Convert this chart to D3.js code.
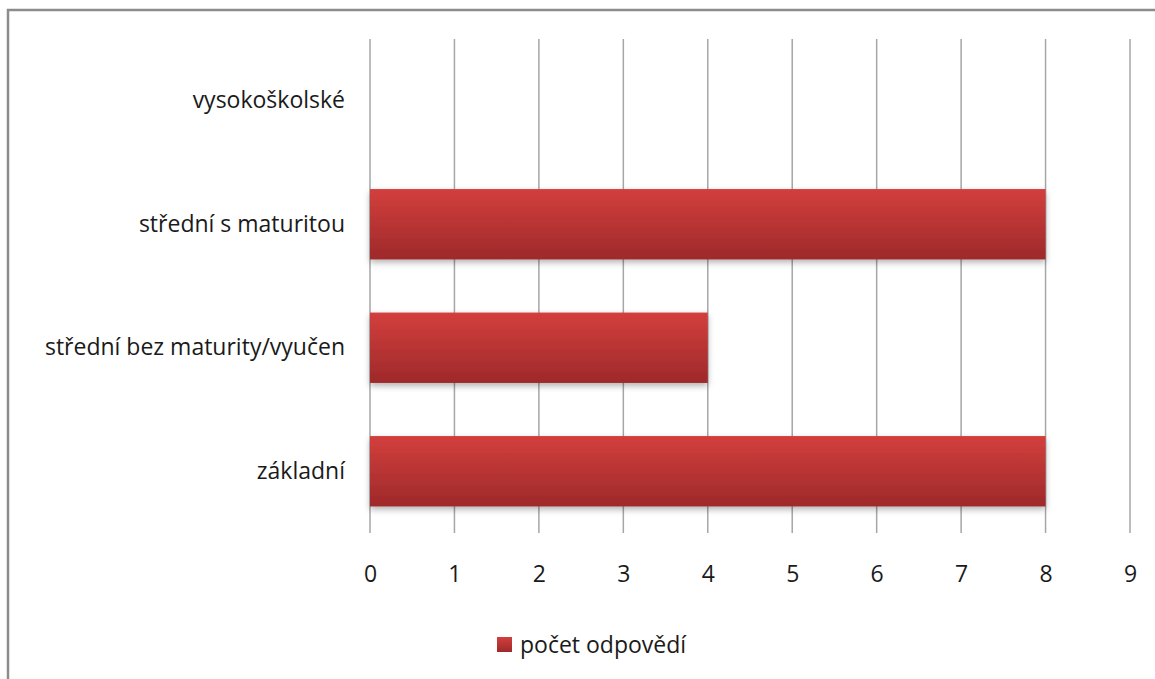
<!DOCTYPE html>
<html><head><meta charset="utf-8">
<script src="https://cdn.jsdelivr.net/npm/d3@7"></script>
<style>body{margin:0;background:#fff}svg{display:block}text{font-family:"Open Sans",sans-serif;fill:#1a1a1a}</style>
</head><body><svg id="c" width="1155" height="679"></svg>
<script>
const categories = ["vysokoškolské", "střední s maturitou", "střední bez maturity/vyučen", "základní"];
const values = [0, 8, 4, 8];
const ticks = [0,1,2,3,4,5,6,7,8,9];
const seriesName = "počet odpovědí";

const FONT = '"Open Sans",sans-serif';
const FS = 23;
const svg = d3.select("#c");
const defs = svg.append("defs");
const g1 = defs.append("linearGradient").attr("id","bg").attr("x1",0).attr("y1",0).attr("x2",0).attr("y2",1);
g1.append("stop").attr("offset","0%").attr("stop-color","#d33f3d");
g1.append("stop").attr("offset","100%").attr("stop-color","#9e292a");
const f = defs.append("filter").attr("id","sh").attr("x","-5%").attr("y","-10%").attr("width","110%").attr("height","140%");
f.append("feDropShadow").attr("dx",0).attr("dy",3).attr("stdDeviation",3).attr("flood-color","#000").attr("flood-opacity",0.3);

svg.append("rect").attr("x",8).attr("y",10).attr("width",1160).attr("height",690)
  .attr("fill","none").attr("stroke","#8c8c8c").attr("stroke-width",2.5);

const x = d3.scaleLinear().domain([0,9]).range([370,1130]);
const y = d3.scaleBand().domain(categories).range([39,533]).paddingInner(0.43).paddingOuter(0.215);

const grid = svg.append("g");
grid.selectAll("line").data(ticks).join("line")
  .attr("x1",d=>x(d)).attr("x2",d=>x(d)).attr("y1",39).attr("y2",533)
  .attr("stroke","#a6a6a6").attr("stroke-width",1.5);

svg.append("g").selectAll("rect").data(categories.map((c,i)=>({c,v:values[i]})).filter(d=>d.v>0)).join("rect")
  .attr("x",x(0)).attr("y",d=>y(d.c)).attr("width",d=>x(d.v)-x(0)).attr("height",y.bandwidth())
  .attr("fill","url(#bg)").attr("filter","url(#sh)");

const xa = d3.axisBottom(x).tickValues(ticks).tickSize(0).tickPadding(0);
const xg = svg.append("g").attr("transform","translate(0,566)").call(xa);
xg.select(".domain").remove();
xg.selectAll("text").attr("font-size",FS).attr("dy","0.71em").style("font-family",FONT).attr("fill","#1a1a1a");

const ya = d3.axisLeft(y).tickSize(0).tickPadding(0);
const yg = svg.append("g").attr("transform","translate(345,0)").call(ya);
yg.select(".domain").remove();
yg.selectAll("text").attr("font-size",FS).style("font-family",FONT).attr("fill","#1a1a1a");

const lg = svg.append("g").attr("transform","translate(497,637)");
lg.append("rect").attr("width",15).attr("height",15).attr("fill","url(#bg)");
lg.append("text").attr("x",23).attr("y",8).attr("dy","0.35em").attr("font-size",FS).style("font-family",FONT).text(seriesName);
</script></body></html>
